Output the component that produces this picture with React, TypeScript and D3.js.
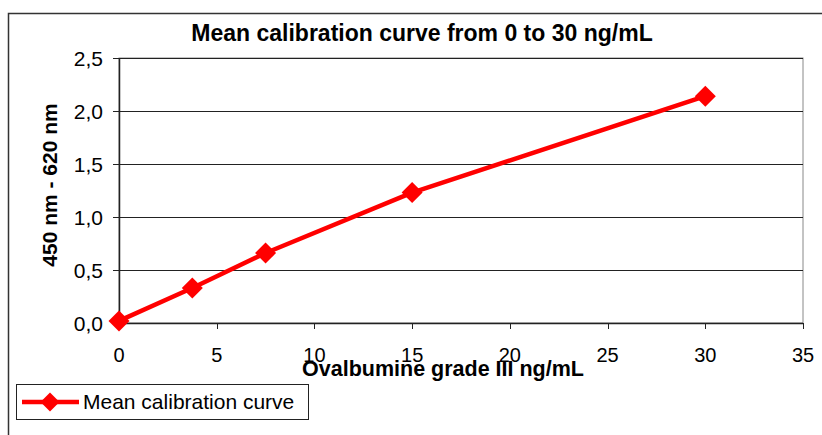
import * as d3 from "d3";

// concentration in ng/mL and mean absorbance (450 nm - 620 nm)
const concentrations = [0, 3.75, 7.5, 15, 30];
const absorbance = [0.02, 0.33, 0.66, 1.23, 2.14];
const xTicks = [0, 5, 10, 15, 20, 25, 30, 35];
const yTicks = [0, 0.5, 1.0, 1.5, 2.0, 2.5];

const W = 822;
const H = 435;
const M = { left: 119, right: 803, top: 58, bottom: 323 };
const RED = "#ff0000";
const FONT = "'Liberation Sans', Arial, sans-serif";

export default function App() {
  const x = d3.scaleLinear().domain([0, 35]).range([M.left, M.right]);
  const y = d3.scaleLinear().domain([0, 2.5]).range([M.bottom, M.top]);
  const pts = concentrations.map((c, i) => ({ c, v: absorbance[i] }));

  const line = d3
    .line<{ c: number; v: number }>()
    .x((d) => x(d.c))
    .y((d) => y(d.v));

  const diamond = (cx: number, cy: number, r: number) =>
    `M${cx},${cy - r}L${cx + r},${cy}L${cx},${cy + r}L${cx - r},${cy}Z`;

  const fmt = (v: number) => v.toFixed(1).replace(".", ",");

  return (
    <svg
      width={W}
      height={H}
      style={{ position: "absolute", left: 0, top: 0, fontFamily: FONT }}
    >
      <rect width={W} height={H} fill="#fff" />
      {/* chart frame */}
      <path d={`M8.5,${H}V13.5H${W}`} fill="none" stroke="#333" strokeWidth={1.5} />

      <text x={422} y={41} textAnchor="middle" fontSize={23} fontWeight="bold">
        Mean calibration curve from 0 to 30 ng/mL
      </text>

      {/* plot area */}
      <rect
        x={M.left}
        y={M.top}
        width={M.right - M.left}
        height={M.bottom - M.top}
        fill="#fff"
        stroke="#888"
        strokeWidth={1}
      />
      {yTicks.map((t) => (
        <g key={t}>
          {t > 0 && (
            <line
              x1={M.left}
              x2={M.right}
              y1={Math.round(y(t)) + 0.5}
              y2={Math.round(y(t)) + 0.5}
              stroke="#222"
              strokeWidth={1}
            />
          )}
          <line
            x1={M.left - 6}
            x2={M.left}
            y1={Math.round(y(t)) + 0.5}
            y2={Math.round(y(t)) + 0.5}
            stroke="#222"
          />
          <text
            x={103}
            y={y(t)}
            dy="0.36em"
            textAnchor="end"
            fontSize={21}
          >
            {fmt(t)}
          </text>
        </g>
      ))}
      <line x1={M.left + 0.5} x2={M.left + 0.5} y1={M.top} y2={M.bottom + 0.5} stroke="#222" strokeWidth={1.5} />
      <line x1={M.left} x2={M.right} y1={M.bottom + 0.5} y2={M.bottom + 0.5} stroke="#222" strokeWidth={1.5} />
      {xTicks.map((t) => (
        <g key={t}>
          <line
            x1={Math.round(x(t)) + 0.5}
            x2={Math.round(x(t)) + 0.5}
            y1={M.bottom}
            y2={M.bottom + 6}
            stroke="#222"
          />
          <text x={x(t)} y={362} textAnchor="middle" fontSize={20}>
            {t}
          </text>
        </g>
      ))}

      <text
        transform="translate(57,185) rotate(-90)"
        textAnchor="middle"
        fontSize={21}
        fontWeight="bold"
      >
        450 nm - 620 nm
      </text>
      <text x={443} y={376} textAnchor="middle" fontSize={21.5} fontWeight="bold">
        Ovalbumine grade III ng/mL
      </text>

      {/* series */}
      <path d={line(pts) ?? ""} fill="none" stroke={RED} strokeWidth={4.5} strokeLinejoin="round" />
      {pts.map((p) => (
        <path key={p.c} d={diamond(x(p.c), y(p.v), 10.5)} fill={RED} />
      ))}

      {/* legend */}
      <rect x={16.5} y={384.5} width={292} height={35} fill="#fff" stroke="#222" strokeWidth={1} />
      <line x1={22} x2={79} y1={402} y2={402} stroke={RED} strokeWidth={4.5} />
      <path d={diamond(50, 402, 9.5)} fill={RED} />
      <text x={83} y={409} fontSize={21}>
        Mean calibration curve
      </text>
    </svg>
  );
}
